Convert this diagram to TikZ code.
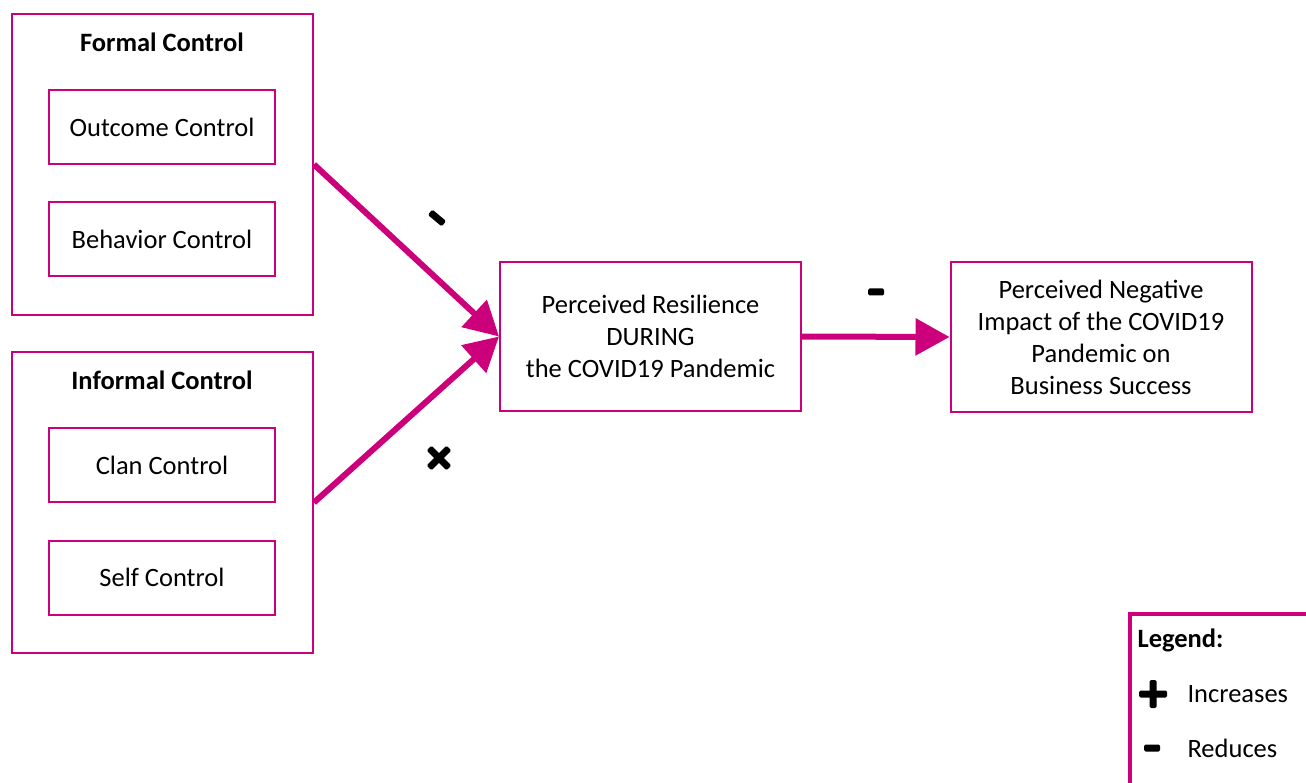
\documentclass[tikz,border=0pt]{standalone}
\usepackage{fontspec}
\setmainfont{Carlito}
\usetikzlibrary{arrows.meta}
\definecolor{magentaline}{RGB}{204,0,122}
\tikzset{
  groupbox/.style={draw=magentaline, line width=2pt, minimum width=301pt, minimum height=301pt, inner sep=0pt},
  itembox/.style={draw=magentaline, line width=2pt, minimum width=226pt, minimum height=74pt, inner sep=0pt, font=\fontsize{26.5}{30}\selectfont},
  stagebox/.style={draw=magentaline, line width=2pt, minimum width=301pt, minimum height=149pt, align=center, font=\fontsize{26.5}{32}\selectfont},
  grouptitle/.style={font=\fontsize{26.5}{30}\selectfont\bfseries},
  effect/.style={magentaline, line width=6pt, -{Triangle[length=34pt,width=36pt]}},
  signbar/.style={fill=black, rounded corners=1.5pt, minimum width=#1, minimum height=7pt, inner sep=0pt},
  signbar/.default=16pt,
  legendtext/.style={font=\fontsize{26.5}{30}\selectfont, anchor=west}
}
\begin{document}
\begin{tikzpicture}[x=1pt,y=-1pt]
  \useasboundingbox (0,0) rectangle (1306,783);
  \clip (0,0) rectangle (1306,783);

  % control groups
  \node[groupbox] (formal) at (162.5,164.5) {};
  \node[grouptitle] (formaltitle) at (162,42) {Formal Control};
  \node[itembox] (outcome) at (162,127) {Outcome Control};
  \node[itembox] (behavior) at (162,239.5) {Behavior Control};

  \node[groupbox] (informal) at (162.5,502.5) {};
  \node[grouptitle] (informaltitle) at (162,380) {Informal Control};
  \node[itembox] (clan) at (162,465) {Clan Control};
  \node[itembox] (self) at (162,577.5) {Self Control};

  % resilience and impact
  \node[stagebox] (resil) at (650.5,336.5) {Perceived Resilience\\DURING\\the COVID19 Pandemic};
  \node[stagebox] (impact) at (1101,337) {Perceived Negative\\Impact of the COVID19\\Pandemic on\\Business Success};

  \draw[effect] (formal.east) -- (resil.west);
  \draw[effect] (informal.east) -- (resil.west);
  \draw[effect] (resil.east) -- (impact.west);

  % effect signs
  \node[signbar=18pt, rotate=-40] (minusa) at (437,218) {};
  \node[signbar=28pt, rotate=45] (timesb) at (439,458) {};
  \node[signbar=28pt, rotate=-45] (timesb2) at (439,458) {};
  \node[signbar] (minusc) at (876,292) {};

  % legend
  \node[draw=magentaline, line width=4pt, minimum width=220pt, minimum height=220pt, anchor=north west] (legend) at (1128,612) {};
  \node[legendtext, font=\fontsize{26.5}{30}\selectfont\bfseries] (legendtitle) at (1134,640) {Legend:};
  \node[signbar=28pt] (plus) at (1153,694) {};
  \node[signbar=28pt, rotate=90] (plus2) at (1153,694) {};
  \node[legendtext] (incr) at (1184,694) {Increases};
  \node[signbar] (minus) at (1152,748) {};
  \node[legendtext] (redu) at (1184,748) {Reduces};
\end{tikzpicture}
\end{document}
